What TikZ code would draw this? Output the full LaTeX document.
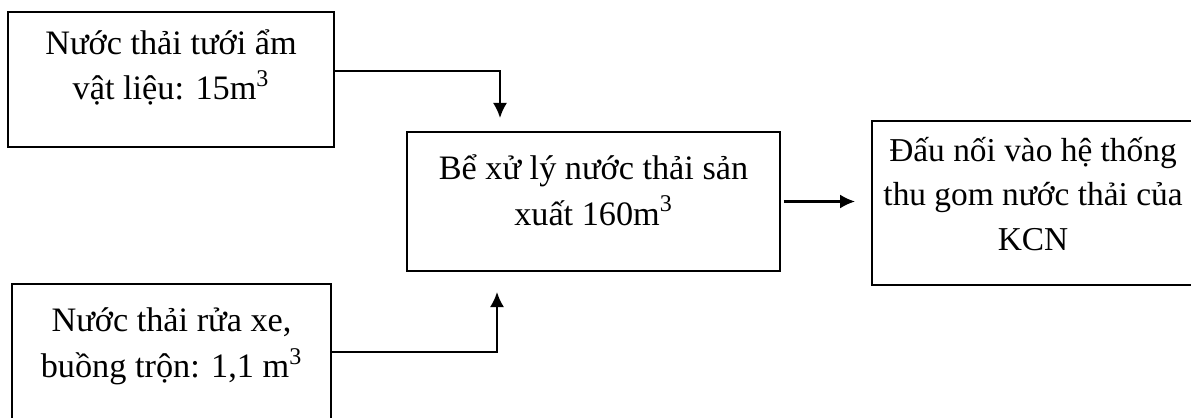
\documentclass[tikz,border=0pt]{standalone}
\usepackage{fontspec}
\setmainfont{Liberation Serif}
\usepackage{tikz}
\usetikzlibrary{positioning, arrows.meta}

\begin{document}
\begin{tikzpicture}[
	box/.style={shape=rectangle, draw, line width=1.1pt},
	txt/.style={anchor=center, align=center, inner sep=0pt, font=\fontsize{19.5}{26}\selectfont},
	flow/.style={-{Latex[length=0.3cm, width=0.28cm]}, line width=1.2pt}
]
	% Frame and cut edges:
	\useasboundingbox (0, 0) rectangle (23.82, 8.34);
	\clip (0, 0) rectangle (23.82, 8.34);
	% Boxes and their texts:
	\node[box, minimum width=6.52cm, minimum height=2.7cm] (wetting) at (3.42, 6.75){};
	\node[txt] (wettingtxt) at (3.42, 6.99){Nước thải tưới ẩm\\vật liệu: 15m\textsuperscript{3}};
	\node[box, minimum width=7.46cm, minimum height=2.78cm] (tank) at (11.87, 4.31){};
	\node[txt] (tanktxt) at (11.87, 4.54){Bể xử lý nước thải sản\\xuất 160m\textsuperscript{3}};
	\node[box, minimum width=6.44cm, minimum height=3.28cm] (outlet) at (20.66, 4.28){};
	\node[txt, font=\fontsize{19}{25.5}\selectfont] (outlettxt) at (20.66, 4.46){Đấu nối vào hệ thống\\thu gom nước thải của\\KCN};
	\node[box, minimum width=6.38cm, minimum height=3.0cm] (washing) at (3.43, 1.16){};
	\node[txt] (washingtxt) at (3.43, 1.41){Nước thải rửa xe,\\buồng trộn: 1,1 m\textsuperscript{3}};
	% Arrows:
	\coordinate (tipA) at (10.0, 5.98);
	\coordinate (tipB) at (17.1, 4.34);
	\coordinate (tipC) at (9.94, 2.5);
	\draw[flow] ([yshift=0.17cm]wetting.east) -| (tipA);
	\draw[flow] ([xshift=0.06cm]tank.east) -- (tank.east -| tipB);
	\draw[flow] ([yshift=0.14cm]washing.east) -| (tipC);
\end{tikzpicture}
\end{document}
